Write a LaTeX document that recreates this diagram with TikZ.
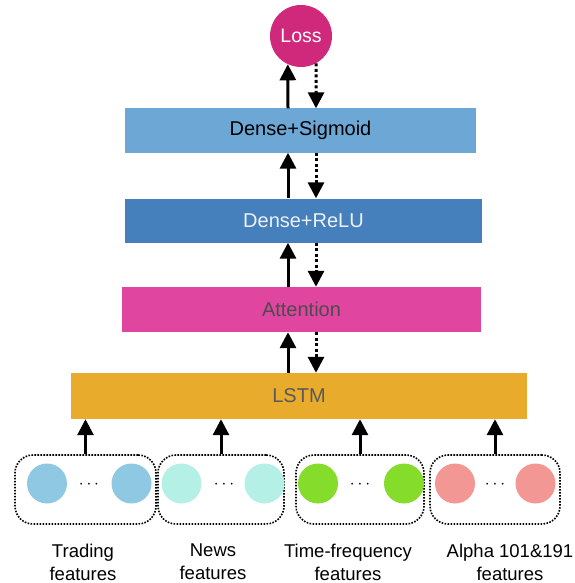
\documentclass[tikz,border=0pt]{standalone}
\usepackage{fontspec}
\setmainfont{Liberation Sans}
\usetikzlibrary{arrows.meta,positioning}
\definecolor{losscol}{HTML}{D0287A}
\definecolor{sigcol}{HTML}{6DA7D5}
\definecolor{relucol}{HTML}{457FBC}
\definecolor{attcol}{HTML}{E045A0}
\definecolor{lstmcol}{HTML}{E8AB2B}
\definecolor{tradecol}{HTML}{8EC8E3}
\definecolor{newscol}{HTML}{B5F0E6}
\definecolor{tfcol}{HTML}{86DC2A}
\definecolor{alphacol}{HTML}{F29794}
\tikzset{
  layer/.style={rectangle,inner sep=0pt,minimum height=44pt,font=\fontsize{20}{22}\selectfont},
  feat/.style={circle,inner sep=0pt,minimum size=40pt},
  group/.style={rectangle,draw,rounded corners=18pt,line width=1.6pt,
    dash pattern=on 1.6pt off 1.4pt,minimum height=69pt,inner sep=0pt},
  fwd/.style={line width=3pt,-{Triangle[width=16pt,length=16pt]}},
  bwd/.style={line width=3pt,dash pattern=on 3pt off 2.5pt,-{Triangle[width=16pt,length=16pt]}},
  lbl/.style={align=center,font=\fontsize{18.5}{23}\selectfont},
  dotsnode/.style={font=\fontsize{18}{20}\selectfont,inner sep=0pt}
}
\begin{document}
\begin{tikzpicture}[x=1pt,y=-1pt]
  \useasboundingbox (0,0) rectangle (574,583);

  % layers
  \node[circle,fill=losscol,minimum size=62pt,inner sep=0pt,text=white,
    font=\fontsize{19.5}{21}\selectfont] (loss) at (301,36) {Loss};
  \node[layer,fill=sigcol,minimum width=351pt] (sig) at (300.5,130.5) {Dense+Sigmoid};
  \node[layer,fill=relucol,minimum width=357pt,text=white!90!relucol] (relu) at (303.5,220.5) {Dense+ReLU};
  \node[layer,fill=attcol,minimum width=359pt,minimum height=45pt,text=black!70] (att) at (301.5,309.5) {Attention};
  \node[layer,fill=lstmcol,minimum width=456pt,minimum height=46pt,text=black!65] (lstm) at (299,396) {LSTM};

  \coordinate (upx) at (288,0);
  \coordinate (dnx) at (316,0);

  % forward and backward passes
  \draw[fwd] (sig.north -| upx) -- (loss.-115);
  \draw[bwd] (loss.-61) -- (sig.north -| dnx);
  \draw[fwd] (relu.north -| upx) -- (sig.south -| upx);
  \draw[bwd] (sig.south -| dnx) -- (relu.north -| dnx);
  \draw[fwd] (att.north -| upx) -- (relu.south -| upx);
  \draw[bwd] (relu.south -| dnx) -- (att.north -| dnx);
  \draw[fwd] (lstm.north -| upx) -- (att.south -| upx);
  \draw[bwd] (att.south -| dnx) -- (lstm.north -| dnx);

  % feature groups
  \node[group,minimum width=141pt] (trading) at (85.5,489.5) {};
  \node[group,minimum width=126pt] (news) at (221,489.5) {};
  \node[group,minimum width=128pt] (timefreq) at (360,489.5) {};
  \node[group,minimum width=130pt] (alpha) at (495,489.5) {};

  \node[feat,fill=tradecol] (tr1) at (47,483.5) {};
  \node[feat,fill=tradecol] (tr2) at (131.5,483.5) {};
  \node[dotsnode] (trdots) at (89,485) {$\cdots$};
  \node[feat,fill=newscol] (nw1) at (181.5,483.5) {};
  \node[feat,fill=newscol] (nw2) at (264.5,483.5) {};
  \node[dotsnode] (nwdots) at (224,485) {$\cdots$};
  \node[feat,fill=tfcol] (tf1) at (318,483.5) {};
  \node[feat,fill=tfcol] (tf2) at (404,483.5) {};
  \node[dotsnode] (tfdots) at (360,485) {$\cdots$};
  \node[feat,fill=alphacol] (al1) at (455,483.5) {};
  \node[feat,fill=alphacol] (al2) at (535.5,483.5) {};
  \node[dotsnode] (aldots) at (495,485) {$\cdots$};

  \draw[fwd] (trading.north) -- (trading.north |- lstm.south);
  \draw[fwd] (news.north) -- (news.north |- lstm.south);
  \draw[fwd] (timefreq.north) -- (timefreq.north |- lstm.south);
  \draw[fwd] (alpha.north) -- (alpha.north |- lstm.south);

  % labels
  \node[lbl] (tradinglbl) at (83,562) {Trading\\features};
  \node[lbl] (newslbl) at (213,562) {News\\features};
  \node[lbl] (timefreqlbl) at (348,562) {Time-frequency\\features};
  \node[lbl] (alphalbl) at (510,562) {Alpha 101\&191\\features};
\end{tikzpicture}
\end{document}
